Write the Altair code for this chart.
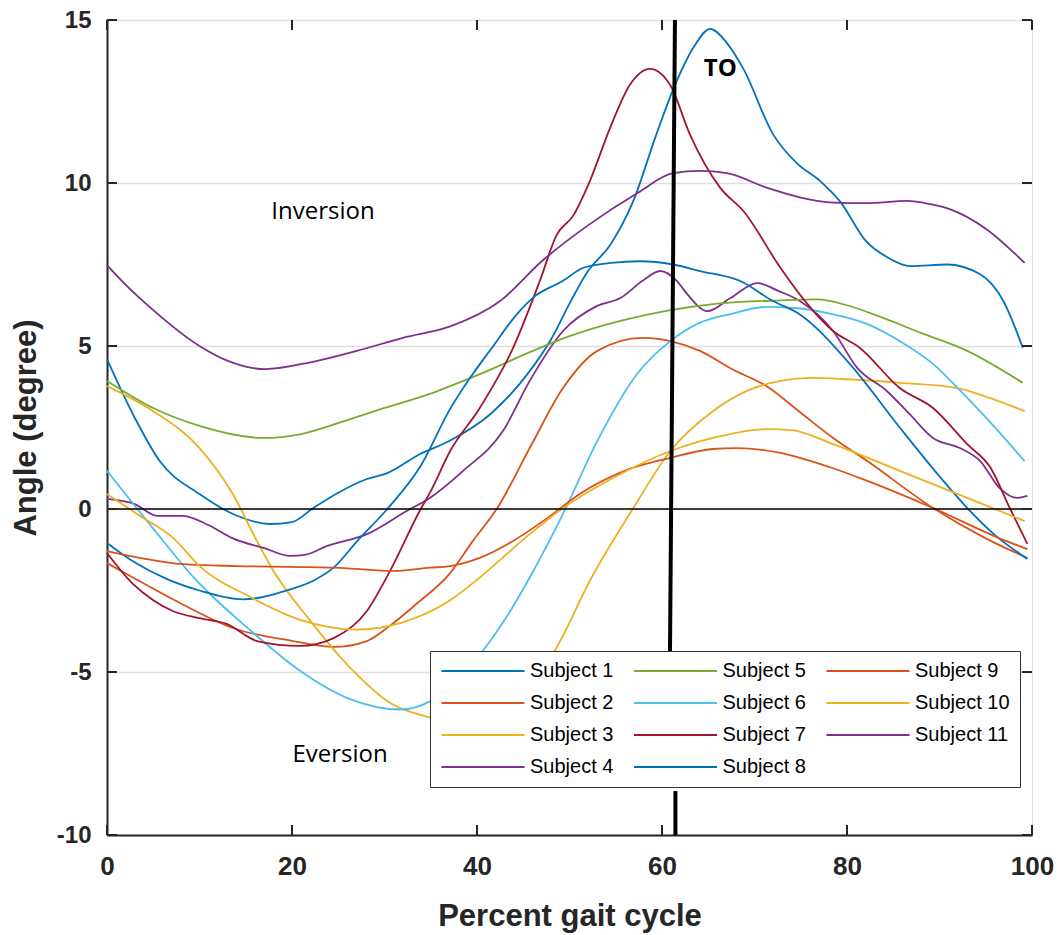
import altair as alt
import pandas as pd

# ---------------- data ----------------
subjects = [f"Subject {i}" for i in range(1, 12)]
colors = ["#0072BD", "#D95319", "#EDB120", "#7E2F8E", "#77AC30", "#4DBEEE",
          "#A2142F", "#0072BD", "#D95319", "#EDB120", "#7E2F8E"]

s1_x = [0, 3, 5.7, 10, 14, 17.6, 20, 22.3, 25, 28.1, 30.3, 33.8, 37.1, 41.4, 45.7, 48, 50, 52, 54.4,
        56.9, 59.4, 61.4, 63.5, 65.2, 67, 68.8, 72, 74.6, 77.1, 79.2, 82.1, 84.5, 86.8, 90.8, 94.4, 96.9, 99]
s1_y = [4.6, 2.8, 1.47, 0.46, -0.2, -0.46, -0.4, 0.03, 0.5, 0.92, 1.1, 1.68, 2.1, 2.9, 4.23, 5.2, 6.3, 7.3, 8.1,
        9.45, 11.5, 13.0, 14.2, 14.73, 14.3, 13.5, 11.5, 10.6, 10.06, 9.45, 8.2, 7.7, 7.45, 7.5, 7.2, 6.38, 4.95]

s2_x = [0, 2.8, 8, 13.6, 20.1, 24.5, 28.1, 30.5, 33.5, 37, 39.5, 42.2, 45.7, 49.3, 53, 57.9, 60.9, 64.1,
        67.5, 71.4, 75, 78.5, 82.2, 89.3, 95, 99.5]
s2_y = [-1.66, -2.1, -2.9, -3.65, -4.05, -4.23, -4.05, -3.6, -2.9, -2.0, -1.0, 0.03, 1.87, 3.71, 4.85, 5.25, 5.15,
        4.85, 4.3, 3.75, 2.95, 2.18, 1.47, 0.03, -0.9, -1.5]

s3_x = [0, 5, 10, 13.6, 16.2, 18, 21.9, 26.3, 30.9, 34.9, 38, 41, 44, 46.5, 48.5, 52.2, 56.9, 60.9, 65.5,
        69, 72.8, 76, 80, 85.7, 91.9, 95.5, 99.2]
s3_y = [3.77, 3.0, 1.87, 0.46, -0.98, -1.9, -3.4, -4.87, -6.0, -6.4, -6.7, -6.6, -6.0, -5.1, -4.3, -2.2, 0.03,
        1.78, 3.0, 3.6, 3.93, 4.02, 3.98, 3.87, 3.71, 3.4, 3.0]

s4_x = [0, 3, 5.4, 8.2, 11, 13.6, 17, 19.8, 21.5, 23.8, 28.1, 32.4, 34.9, 38.5, 42.8, 45.7, 49.3, 53, 55.5,
        57.9, 59.8, 61.6, 62.7, 64.9, 67.4, 70.3, 72.5, 74.9, 78.5, 81.1, 84.3, 86.8, 89.3, 92.2, 94.4, 96.5, 98.4, 99.5]
s4_y = [0.31, 0.15, -0.21, -0.21, -0.5, -0.9, -1.2, -1.44, -1.4, -1.13, -0.77, -0.06, 0.34, 1.17, 2.39, 3.93,
        5.46, 6.23, 6.47, 7.0, 7.3, 7.0, 6.6, 6.07, 6.47, 6.93, 6.7, 6.38, 5.46, 4.33, 3.62, 2.9, 2.18, 1.87, 1.47,
        0.64, 0.34, 0.4]

s5_x = [0, 5, 10, 16.9, 21, 26.3, 30, 34.9, 37.1, 40, 46.8, 50, 55.5, 60.9, 66, 72.8, 76.8, 80, 83.9, 88, 93, 99]
s5_y = [3.93, 3.1, 2.55, 2.18, 2.3, 2.76, 3.1, 3.53, 3.77, 4.1, 4.94, 5.3, 5.77, 6.1, 6.3, 6.4, 6.43, 6.25,
        5.86, 5.4, 4.85, 3.87]

s6_x = [0, 5, 9.7, 11.1, 15, 20.9, 26, 31.7, 34.9, 38, 40.5, 43, 45.7, 49.3, 53, 57.3, 60.9, 64, 67.4, 71.4,
        75, 78, 82.2, 86, 89.3, 92, 94.7, 99.2]
s6_y = [1.17, -0.6, -2.2, -2.6, -3.6, -4.97, -5.8, -6.15, -5.9, -5.2, -4.4, -3.4, -2.1, -0.15, 2.08, 4.14, 5.15,
        5.7, 5.98, 6.2, 6.15, 6.0, 5.67, 5.1, 4.45, 3.7, 2.9, 1.47]

s7_x = [0, 2.8, 5, 7.1, 10, 13, 16.2, 20.9, 24.5, 28.1, 30.6, 33.8, 35, 37.1, 40.3, 43.9, 46.8, 48.6, 50.4,
        52.2, 54.4, 56.5, 58.7, 60.9, 63, 66.3, 68.8, 72.8, 75.2, 78.5, 81.4, 85.7, 89.3, 93, 95.5, 97.6, 99.5]
s7_y = [-1.35, -2.3, -2.8, -3.13, -3.35, -3.53, -4.05, -4.2, -3.96, -3.13, -1.9, -0.06, 0.55, 1.78, 3.1, 4.94,
        7.0, 8.4, 9.0, 10.06, 11.7, 13.0, 13.5, 13.0, 11.5, 9.85, 9.14, 7.4, 6.47, 5.46, 4.94, 3.71, 3.1, 1.99,
        1.27, 0.03, -1.07]

s8_x = [0, 2.8, 6.5, 10, 14.7, 19.4, 22.3, 24.5, 27, 30.3, 33.8, 37.1, 39.2, 41.5, 44.3, 46, 49.3, 51.5, 54.5,
        57.6, 61.2, 64.1, 68.4, 72, 74.9, 80.3, 85.7, 90, 93, 96, 99.5]
s8_y = [-1.04, -1.6, -2.15, -2.5, -2.77, -2.5, -2.2, -1.8, -1.0, 0.0, 1.27, 3.07, 4.0, 4.9, 5.97, 6.47, 7.0,
        7.4, 7.55, 7.6, 7.5, 7.3, 7.0, 6.38, 5.97, 4.45, 2.5, 1.0, 0.03, -0.8, -1.53]

s9_x = [0, 8.2, 14, 20.9, 26, 30.9, 34.9, 37.1, 40.3, 43.9, 47.6, 51.1, 56.5, 60.9, 65.5, 68, 72.8, 74.9,
        78.5, 82.2, 89.3, 96.5, 99.5]
s9_y = [-1.29, -1.69, -1.75, -1.78, -1.82, -1.9, -1.8, -1.75, -1.5, -0.98, -0.28, 0.46, 1.23, 1.57, 1.84, 1.87,
        1.72, 1.57, 1.25, 0.86, 0.03, -0.9, -1.23]

s10_x = [0, 3.5, 7.2, 10, 15.5, 20.9, 27, 31.7, 37.1, 40.3, 45.7, 49.3, 54.7, 60.9, 67.4, 71.4, 74, 78.5,
         85.7, 93, 99.2]
s10_y = [0.46, -0.2, -0.9, -1.75, -2.7, -3.4, -3.7, -3.5, -2.8, -2.1, -0.77, 0.03, 0.95, 1.78, 2.3, 2.45, 2.42,
         1.99, 1.17, 0.34, -0.37]

s11_x = [0, 1.6, 5, 10, 13, 17.1, 22, 27, 32, 37.1, 42.5, 47, 52, 57.4, 61.2, 64.1, 67, 71.4, 75, 78.5, 82,
         86.5, 89, 91.1, 95, 99.2]
s11_y = [7.48, 7.0, 6.1, 5.0, 4.55, 4.29, 4.5, 4.85, 5.25, 5.6, 6.38, 7.6, 8.7, 9.7, 10.3, 10.37, 10.3, 9.85,
         9.55, 9.4, 9.38, 9.45, 9.35, 9.2, 8.6, 7.55]

legend_order = ["Subject 1", "Subject 5", "Subject 9",
                "Subject 2", "Subject 6", "Subject 10",
                "Subject 3", "Subject 7", "Subject 11",
                "Subject 4", "Subject 8"]

x_ticks = [0, 20, 40, 60, 80, 100]
y_ticks = [-10, -5, 0, 5, 10, 15]

# toe-off line (upper part is partly hidden by legend, lower part below legend)
to_x = [61.4, 61.45]
to_x2 = [60.75, 61.45]
to_y = [15, -8.65]
to_y2 = [-8.5, -10]

ann_text = ["Inversion", "Eversion"]
ann_x = [23.35, 25.2]
ann_y = [9.1, -7.55]
to_label = ["TO"]
to_label_x = [66.3]
to_label_y = [13.5]

# ---------------- build tables ----------------
xs = [s1_x, s2_x, s3_x, s4_x, s5_x, s6_x, s7_x, s8_x, s9_x, s10_x, s11_x]
ys = [s1_y, s2_y, s3_y, s4_y, s5_y, s6_y, s7_y, s8_y, s9_y, s10_y, s11_y]
rows = []
for name, xv, yv in zip(subjects, xs, ys):
    for i, (a, b) in enumerate(zip(xv, yv)):
        rows.append({"subject": name, "x": a, "y": b, "order": i})
df = pd.DataFrame(rows)

color_of = dict(zip(subjects, colors))
legend_colors = [color_of[s] for s in legend_order]

X_MIN, X_MAX, Y_MIN, Y_MAX = 0, 100, -10, 15
W, H = 925, 815
TICK_PX = 10
tx = TICK_PX * (X_MAX - X_MIN) / W
ty = TICK_PX * (Y_MAX - Y_MIN) / H

xs_scale = alt.Scale(domain=[X_MIN, X_MAX], nice=False, zero=False)
ys_scale = alt.Scale(domain=[Y_MIN, Y_MAX], nice=False, zero=False)

FONT = "Liberation Sans"
AX = "#262626"

x_axis = alt.Axis(values=x_ticks, title="Percent gait cycle", grid=False, ticks=False, tickSize=0,
                  labelFont=FONT, labelFontSize=26, labelFontWeight="bold", labelColor=AX,
                  labelPadding=18, labelFlush=False, domainColor=AX, domainWidth=2,
                  titleFont=FONT, titleFontSize=31, titleFontWeight="bold", titleColor=AX,
                  titleBaseline="alphabetic", titleY=90)
y_axis = alt.Axis(values=y_ticks, title="Angle (degree)", grid=True, gridColor="#dedede", gridWidth=1.5,
                  ticks=False, tickSize=0, labelFont=FONT, labelFontSize=24, labelFontWeight="bold",
                  labelColor=AX, labelPadding=16, labelFlush=False, domainColor=AX, domainWidth=2,
                  labelExpr="'' + datum.value",
                  titleFont=FONT, titleFontSize=31, titleFontWeight="bold", titleColor=AX,
                  titleBaseline="alphabetic", titleX=-72, titleY=H / 2, titleAngle=270)

base_x = alt.X("x:Q", scale=xs_scale, axis=x_axis)
base_y = alt.Y("y:Q", scale=ys_scale, axis=y_axis)

zero_df = pd.DataFrame({"y": [0]})
zero_rule = alt.Chart(zero_df).mark_rule(color="black", strokeWidth=1.4).encode(
    y=alt.Y("y:Q", scale=ys_scale))

lines = alt.Chart(df).mark_line(strokeWidth=1.8, interpolate="monotone").encode(
    x=base_x, y=base_y,
    color=alt.Color("subject:N",
                    scale=alt.Scale(domain=legend_order, range=legend_colors),
                    legend=alt.Legend(title=None, orient="none", legendX=323, legendY=631,
                                      columns=3, direction="horizontal", gridAlign="all",
                                      symbolType="stroke", symbolSize=6900, symbolStrokeWidth=2,
                                      clipHeight=20,
                                      labelFont=FONT, labelFontSize=20, labelColor="black",
                                      labelOffset=4, columnPadding=7.5, rowPadding=12,
                                      padding=10, fillColor="white", strokeColor="#333333",
                                      labelLimit=200)),
    detail="subject:N",
    order="order:Q")

to_df = pd.DataFrame({"x": to_x, "x2": to_x2, "y": to_y, "y2": to_y2})
to_rule = alt.Chart(to_df).mark_rule(color="black", strokeWidth=4).encode(
    x=alt.X("x:Q", scale=xs_scale), x2="x2:Q", y=alt.Y("y:Q", scale=ys_scale), y2="y2:Q")

ann_df = pd.DataFrame({"t": ann_text, "x": ann_x, "y": ann_y})
ann = alt.Chart(ann_df).mark_text(font="Open Sans", fontSize=24, color="black",
                                  align="center", baseline="middle").encode(
    x=alt.X("x:Q", scale=xs_scale), y=alt.Y("y:Q", scale=ys_scale), text="t:N")

to_df2 = pd.DataFrame({"t": to_label, "x": to_label_x, "y": to_label_y})
to_txt = alt.Chart(to_df2).mark_text(font="Open Sans", fontSize=24, fontWeight="bold", color="black",
                                     align="center", baseline="middle").encode(
    x=alt.X("x:Q", scale=xs_scale), y=alt.Y("y:Q", scale=ys_scale), text="t:N")

# inward ticks on all four sides
tick_rows = []
for v in y_ticks:
    tick_rows.append({"x": X_MIN, "x2": X_MIN + tx, "y": v, "y2": v})
    tick_rows.append({"x": X_MAX - tx, "x2": X_MAX, "y": v, "y2": v})
for v in x_ticks:
    tick_rows.append({"x": v, "x2": v, "y": Y_MIN, "y2": Y_MIN + ty})
    tick_rows.append({"x": v, "x2": v, "y": Y_MAX - ty, "y2": Y_MAX})
tick_df = pd.DataFrame(tick_rows)
ticks = alt.Chart(tick_df).mark_rule(color=AX, strokeWidth=2).encode(
    x=alt.X("x:Q", scale=xs_scale), x2="x2:Q", y=alt.Y("y:Q", scale=ys_scale), y2="y2:Q")

chart = alt.layer(lines, zero_rule, to_rule, ann, to_txt, ticks).properties(
    width=W, height=H,
    autosize=alt.AutoSizeParams(type="none"),
    padding={"left": 107, "top": 20, "right": 27, "bottom": 100},
).configure_view(stroke=AX, strokeWidth=2).configure(background="white")

chart.save("out.html", embed_options={"renderer": "svg", "actions": False})
